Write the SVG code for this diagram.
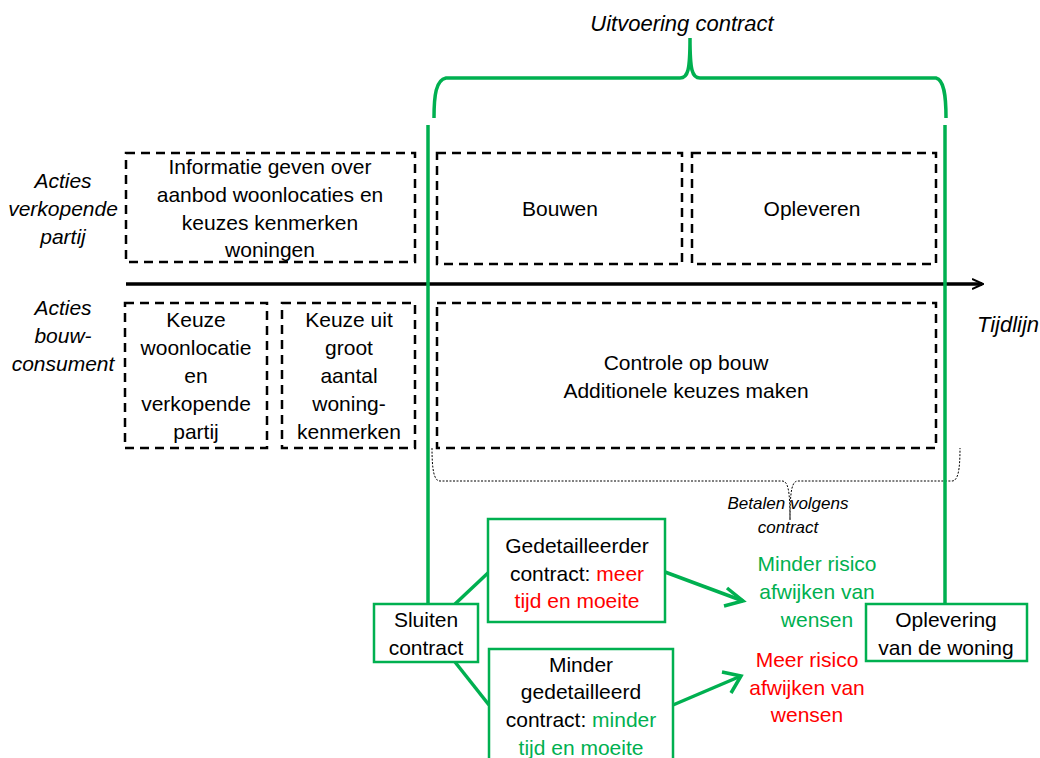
<svg xmlns="http://www.w3.org/2000/svg" width="1040" height="758" viewBox="0 0 1040 758">
<defs>
<style>
text{font-family:"Liberation Sans",Arial,sans-serif;font-size:21px;text-anchor:middle;fill:#000}
.it{font-style:italic}
.big{font-size:22px}
.sm{font-size:17px}
.g{fill:#00B050}
.r{fill:#FF0000}
.dash{fill:none;stroke:#000;stroke-width:2.5;stroke-dasharray:9,6}
.gbox{fill:#fff;stroke:#00B050;stroke-width:2.5}
.gline{fill:none;stroke:#00B050;stroke-width:3.5}
.conn{fill:none;stroke:#00B050;stroke-width:3.5}
</style>
<marker id="blk" markerWidth="12" markerHeight="12" refX="10" refY="6" orient="auto" markerUnits="userSpaceOnUse">
<path d="M0,1 L11,6 L0,11" fill="none" stroke="#000" stroke-width="2"/>
</marker>
</defs>
<rect width="1040" height="758" fill="#fff"/>

<g id="labels">
<text class="it big" x="682" y="31">Uitvoering contract</text>
<text class="it" x="63" y="188">Acties</text>
<text class="it" x="63" y="216">verkopende</text>
<text class="it" x="63" y="244">partij</text>
<text class="it" x="63" y="315">Acties</text>
<text class="it" x="63" y="343">bouw-</text>
<text class="it" x="63" y="371">consument</text>
<text class="it big" x="1008" y="332">Tijdlijn</text>
<text class="it sm" x="788" y="509">Betalen volgens</text>
<text class="it sm" x="788" y="533">contract</text>
</g>

<g id="braces">
<path class="gline" d="M434,118 C434,95 436,80 446,78 L680,78 C688,78 690,70 690,38 C690,70 692,78 700,78 L936,78 C944,80 946,95 946,118"/>
<path d="M432,448 C432,470 434,481 440,481 L782,481 C788,481 790,490 790,520 C790,490 792,481 798,481 L952,481 C958,481 960,470 960,448" fill="none" stroke="#000" stroke-width="1" stroke-dasharray="2,1.5"/>
</g>

<g id="timeline">
<line x1="126" y1="284" x2="982" y2="284" stroke="#000" stroke-width="3.5" marker-end="url(#blk)"/>
</g>

<g id="greenlines">
<line class="gline" x1="428" y1="125" x2="428" y2="604"/>
<line class="gline" x1="945" y1="125" x2="945" y2="604"/>
</g>

<g id="node-informatie">
<rect class="dash" x="126" y="153" width="289" height="109"/>
<text x="270" y="174">Informatie geven over</text>
<text x="270" y="202">aanbod woonlocaties en</text>
<text x="270" y="230">keuzes kenmerken</text>
<text x="270" y="257">woningen</text>
</g>
<g id="node-bouwen">
<rect class="dash" x="437" y="153" width="245" height="111"/>
<text x="560" y="216">Bouwen</text>
</g>
<g id="node-opleveren">
<rect class="dash" x="692" y="153" width="244" height="111"/>
<text x="812" y="216">Opleveren</text>
</g>
<g id="node-keuze-woonlocatie">
<rect class="dash" x="125" y="303" width="142" height="145"/>
<text x="196" y="327">Keuze</text>
<text x="196" y="355">woonlocatie</text>
<text x="196" y="383">en</text>
<text x="196" y="411">verkopende</text>
<text x="196" y="439">partij</text>
</g>
<g id="node-keuze-kenmerken">
<rect class="dash" x="282" y="303" width="133" height="145"/>
<text x="349" y="327">Keuze uit</text>
<text x="349" y="355">groot</text>
<text x="349" y="383">aantal</text>
<text x="349" y="411">woning-</text>
<text x="349" y="439">kenmerken</text>
</g>
<g id="node-controle">
<rect class="dash" x="437" y="303" width="499" height="145"/>
<text x="686" y="370">Controle op bouw</text>
<text x="686" y="398">Additionele keuzes maken</text>
</g>

<g id="connectors">
<line class="conn" x1="455" y1="604" x2="489" y2="572"/>
<line class="conn" x1="455" y1="662" x2="489" y2="705"/>
<path class="conn" d="M665,572 L743,601"/>
<path class="conn" d="M727,588 L743,601 L724,606"/>
<path class="conn" d="M673,705 L741,676"/>
<path class="conn" d="M722,672 L741,676 L731,693"/>
</g>

<g id="node-sluiten">
<rect class="gbox" x="374" y="604" width="104" height="58"/>
<text x="426" y="627">Sluiten</text>
<text x="426" y="655">contract</text>
</g>
<g id="node-gedetailleerder">
<rect class="gbox" x="488" y="519" width="177" height="103"/>
<text x="577" y="553">Gedetailleerder</text>
<text x="577" y="581">contract: <tspan class="r">meer</tspan></text>
<text x="577" y="608" class="r">tijd en moeite</text>
</g>
<g id="node-minder">
<rect class="gbox" x="489" y="649" width="184" height="115"/>
<text x="581" y="672">Minder</text>
<text x="581" y="699">gedetailleerd</text>
<text x="581" y="727">contract: <tspan class="g">minder</tspan></text>
<text x="581" y="755" class="g">tijd en moeite</text>
</g>
<g id="node-minder-risico">
<text x="817" y="571" class="g">Minder risico</text>
<text x="817" y="599" class="g">afwijken van</text>
<text x="817" y="627" class="g">wensen</text>
</g>
<g id="node-meer-risico">
<text x="807" y="667" class="r">Meer risico</text>
<text x="807" y="695" class="r">afwijken van</text>
<text x="807" y="722" class="r">wensen</text>
</g>
<g id="node-oplevering">
<rect class="gbox" x="866" y="604" width="161" height="57"/>
<text x="946" y="627">Oplevering</text>
<text x="946" y="655">van de woning</text>
</g>
</svg>
